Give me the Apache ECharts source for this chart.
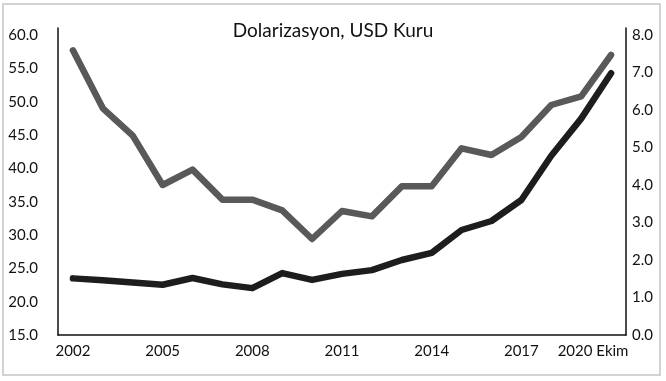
<!DOCTYPE html>
<html>
<head>
<meta charset="utf-8">
<script src="https://cdn.jsdelivr.net/npm/echarts@6/dist/echarts.min.js"></script>
<style>
  html, body { margin: 0; padding: 0; background: #fff; }
  #chart { width: 666px; height: 381px; }
</style>
</head>
<body>
<div id="chart"></div>
<script>
const years = ['2002','2003','2004','2005','2006','2007','2008','2009','2010','2011','2012','2013','2014','2015','2016','2017','2018','2019','2020 Ekim'];
const dolarizasyon = [57.7, 49.0, 44.9, 37.5, 39.8, 35.3, 35.3, 33.7, 29.4, 33.6, 32.8, 37.3, 37.3, 43.0, 42.0, 44.7, 49.5, 50.8, 57.0];
const usdKuru = [1.51, 1.46, 1.40, 1.34, 1.52, 1.35, 1.25, 1.65, 1.47, 1.63, 1.73, 2.0, 2.19, 2.8, 3.04, 3.6, 4.78, 5.77, 6.98];
const titleText = 'Dolarizasyon, USD Kuru';

const FONT = 'Lato';
const TXT = '#111111';

const chart = echarts.init(document.getElementById('chart'), null, { renderer: 'canvas' });
chart.setOption({
  animation: false,
  backgroundColor: '#ffffff',
  title: {
    text: titleText,
    left: 'center',
    top: 16,
    textStyle: { fontFamily: FONT, fontSize: 19, fontWeight: 'normal', color: TXT }
  },
  graphic: [{
    type: 'rect',
    shape: { x: 3, y: 4, width: 657, height: 371 },
    style: { fill: 'none', stroke: '#d2d2d2', lineWidth: 2 },
    silent: true
  }],
  grid: { left: 58, right: 40, top: 28, bottom: 46 },
  xAxis: {
    type: 'category',
    data: years,
    boundaryGap: true,
    axisLine: { lineStyle: { color: TXT, width: 1.5 } },
    axisTick: { show: false },
    axisLabel: {
      interval: 2,
      margin: 9,
      fontFamily: FONT,
      fontSize: 15,
      color: TXT,
      formatter: function (v, i) { return i === years.length - 1 ? '{e|' + v + '}' : v; },
      rich: { e: { fontFamily: FONT, fontSize: 15, color: TXT, padding: [0, 36, 0, 0] } }
    },
    splitLine: { show: false }
  },
  yAxis: [{
    type: 'value',
    min: 15,
    max: 15 + 45 * 307 / 300,
    interval: 5,
    axisLine: { show: true, lineStyle: { color: TXT, width: 1.5 } },
    axisTick: { show: false },
    splitLine: { show: false },
    axisLabel: {
      showMaxLabel: false,
      margin: 20,
      fontFamily: FONT, fontSize: 15, color: TXT,
      formatter: function (v) { return v.toFixed(1); }
    }
  }, {
    type: 'value',
    position: 'right',
    min: 0,
    max: 8 * 307 / 300,
    interval: 1,
    axisLine: { show: true, lineStyle: { color: TXT, width: 1.5 } },
    axisTick: { show: false },
    splitLine: { show: false },
    axisLabel: {
      showMaxLabel: false,
      margin: 6,
      fontFamily: FONT, fontSize: 15, color: TXT,
      formatter: function (v) { return v.toFixed(1); }
    }
  }],
  series: [{
    name: 'Dolarizasyon',
    type: 'line',
    yAxisIndex: 0,
    data: dolarizasyon,
    symbol: 'none',
    lineStyle: { color: '#595959', width: 6.5, cap: 'round', join: 'round' }
  }, {
    name: 'USD Kuru',
    type: 'line',
    yAxisIndex: 1,
    data: usdKuru,
    symbol: 'none',
    lineStyle: { color: '#1e1c1c', width: 6.5, cap: 'round', join: 'round' }
  }]
});
</script>
</body>
</html>
